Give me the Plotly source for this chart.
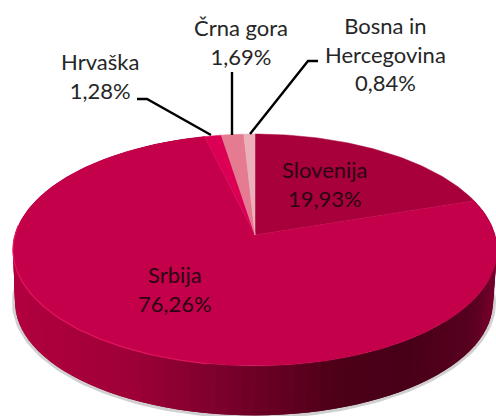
import numpy as np
import plotly.graph_objects as go

categories = ["Slovenija", "Srbija", "Hrvaška", "Črna gora", "Bosna in<br>Hercegovina"]
values = [19.93, 76.26, 1.28, 1.69, 0.84]
value_labels = ["19,93%", "76,26%", "1,28%", "1,69%", "0,84%"]
colors = ["#a8003a", "#c4004a", "#dc0055", "#e47b91", "#ebb0ba"]

# pixel-space drawing area and pie projection
W, H = 496, 416
CX, CY, A, B, K = 255, 235, 240, 114, 0.129
WALL_CX, WALL_CY, WALL_A, WALL_B = 254, 288, 237, 111
wall_x = [12, 120, 220, 330, 400, 470, 496]
wall_rgb = [(178, 0, 64), (160, 0, 56), (122, 0, 44), (78, 0, 24), (72, 0, 24), (88, 0, 32), (120, 0, 46)]

label_pos = [(325, 184), (175, 289), (100, 76), (241, 42), (385, 54)]
label_col = ["#2a0414", "#2a0414", "#262626", "#262626", "#262626"]
leaders = [
    ([137, 147, 211], [99, 99, 135]),
    ([232, 232], [72, 135]),
    ([318, 308, 250], [61, 61, 134]),
]


def project(theta, cx=CX, cy=CY, a=A, b=B):
    u, v = np.sin(theta), np.cos(theta)
    w = 1 + K * v
    return cx + a * u / w, cy - b * v / w


fractions = np.array(values) / sum(values)
edges = np.concatenate([[0], np.cumsum(fractions)]) * 2 * np.pi
fig = go.Figure()


def poly(x, y, color, width=0.8):
    fig.add_trace(go.Scatter(
        x=list(x), y=list(y), mode="lines", fill="toself", fillcolor=color,
        line=dict(color=color, width=width), hoverinfo="skip", showlegend=False))


# soft shadow around the base
t = np.linspace(np.pi / 2, 3 * np.pi / 2, 120)
sx, sy = project(t, WALL_CX, WALL_CY, WALL_A + 1, WALL_B + 1)
fig.add_trace(go.Scatter(x=sx, y=sy, mode="lines", line=dict(color="rgba(120,120,120,0.35)", width=4),
                         hoverinfo="skip", showlegend=False))

# side wall of the biggest slice, shaded across the picture (segments overlap to hide seams)
steps = np.linspace(edges[1], edges[2], 100)
for t0, t1 in zip(steps[:-2], steps[2:]):
    tx0, ty0 = project(t0)
    tx1, ty1 = project(t1)
    bx0, by0 = project(t0, WALL_CX, WALL_CY, WALL_A, WALL_B)
    bx1, by1 = project(t1, WALL_CX, WALL_CY, WALL_A, WALL_B)
    mid = (tx0 + tx1) / 2
    rgb = [np.interp(mid, wall_x, [c[i] for c in wall_rgb]) for i in range(3)]
    poly([tx0, tx1, bx1, bx0], [ty0, ty1, by1, by0], "rgb(%d,%d,%d)" % tuple(rgb), 0)

# top faces
for i, color in enumerate(colors):
    t = np.linspace(edges[i], edges[i + 1], max(4, int(values[i] * 4)))
    x, y = project(t)
    poly(np.r_[CX, x, CX], np.r_[CY, y, CY], color, 0.5)

# front rim highlight
t = np.linspace(np.radians(190), np.radians(275), 80)
rx, ry = project(t)
fig.add_trace(go.Scatter(x=rx, y=ry, mode="lines", line=dict(color="#e4145f", width=1.2),
                         hoverinfo="skip", showlegend=False))

for lx, ly in leaders:
    fig.add_trace(go.Scatter(x=lx, y=ly, mode="lines", line=dict(color="#000000", width=2.4),
                             hoverinfo="skip", showlegend=False))

for name, val, (x, y), col in zip(categories, value_labels, label_pos, label_col):
    fig.add_annotation(x=x, y=y, text=f"{name}<br>{val}", showarrow=False, align="center",
                       font=dict(family="Lato, Carlito, sans-serif", size=22, color=col))

fig.update_layout(
    width=W, height=H, margin=dict(l=0, r=0, t=0, b=0),
    paper_bgcolor="white", plot_bgcolor="white", showlegend=False,
    xaxis=dict(range=[0, W], visible=False, fixedrange=True),
    yaxis=dict(range=[H, 0], visible=False, fixedrange=True),
)
fig.write_html("out.html", config={"displayModeBar": False},
               post_script="document.body.style.margin='0';document.documentElement.style.overflow='hidden';")
